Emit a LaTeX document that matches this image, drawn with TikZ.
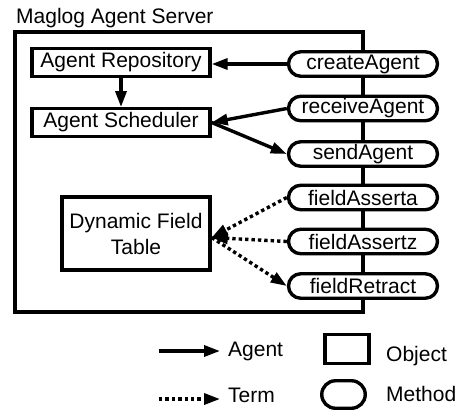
\documentclass[tikz,border=0pt]{standalone}
\usepackage{fontspec}
\setmainfont{Liberation Sans}
\usetikzlibrary{arrows.meta,shapes.misc,calc}
\tikzset{
  lbl/.style={font=\fontsize{21}{26}\selectfont, inner sep=0pt},
  objbox/.style={draw, line width=3.4pt, fill=white, inner sep=0pt, font=\fontsize{21}{26}\selectfont},
  methbox/.style={draw, line width=3.4pt, fill=white, rounded rectangle, inner sep=0pt, font=\fontsize{21}{26}\selectfont, minimum width=149pt, minimum height=24.5pt},
  frame/.style={line width=3.2pt},
  agentarrow/.style={line width=3.4pt, -{Triangle[length=16pt,width=11pt]}},
  termarrow/.style={line width=3.4pt, dash pattern=on 3.4pt off 3pt, -{Triangle[length=16pt,width=11pt]}},
}
\begin{document}
\begin{tikzpicture}[x=1pt,y=-1pt]
\useasboundingbox (0,0) rectangle (462,416);
% title
\node[lbl, anchor=base west] (title) at (16,23) {Maglog Agent Server};
% frame
\draw[frame] (15,32) rectangle (363,312);
% objects
\node[objbox, minimum width=178pt, minimum height=27.5pt] (repo) at (121,62.5) {Agent Repository};
\node[objbox, minimum width=178pt, minimum height=27.5pt] (sched) at (121,122.5) {Agent Scheduler};
\node[objbox, minimum width=148pt, minimum height=73pt, align=center] (dft) at (136,233.5) {Dynamic Field\\Table};
% methods
\node[methbox] (create) at (363,64) {createAgent};
\node[methbox] (receive) at (363,108.5) {receiveAgent};
\node[methbox] (send) at (363,154) {sendAgent};
\node[methbox] (fa) at (363,197.5) {fieldAsserta};
\node[methbox] (fz) at (363,241.5) {fieldAssertz};
\node[methbox] (fr) at (363,286) {fieldRetract};
% connectors
\draw[agentarrow] (create.west) -- (create.west -| repo.east);
\draw[agentarrow] (repo.south) -- (sched.north);
\draw[agentarrow] (receive.west) -- (sched.east);
\draw[agentarrow] (sched.east) -- (send.west);
\draw[termarrow] (fa.west) -- ($(dft.east)+(0,4)$);
\draw[termarrow] (fz.west) -- ($(dft.east)+(0,4)$);
\draw[termarrow] ($(dft.east)+(0,4)$) -- (fr.west);
% legend
\coordinate (la1) at (159,351);
\coordinate (la2) at (220,351);
\draw[agentarrow] (la1) -- (la2);
\node[lbl, anchor=base west] (lagent) at (228,356) {Agent};
\coordinate (lt1) at (159,399);
\coordinate (lt2) at (220,399);
\draw[termarrow] (lt1) -- (lt2);
\node[lbl, anchor=base west] (lterm) at (228,402) {Term};
\node[objbox, minimum width=44pt, minimum height=28.5pt] (lobj) at (347,349) {};
\node[lbl, anchor=base west] (lobjt) at (386,361) {Object};
\node[methbox, minimum width=43.5pt, minimum height=27.5pt] (lmeth) at (343.5,394.5) {};
\node[lbl, anchor=base west] (lmetht) at (386,401) {Method};
\end{tikzpicture}
\end{document}
